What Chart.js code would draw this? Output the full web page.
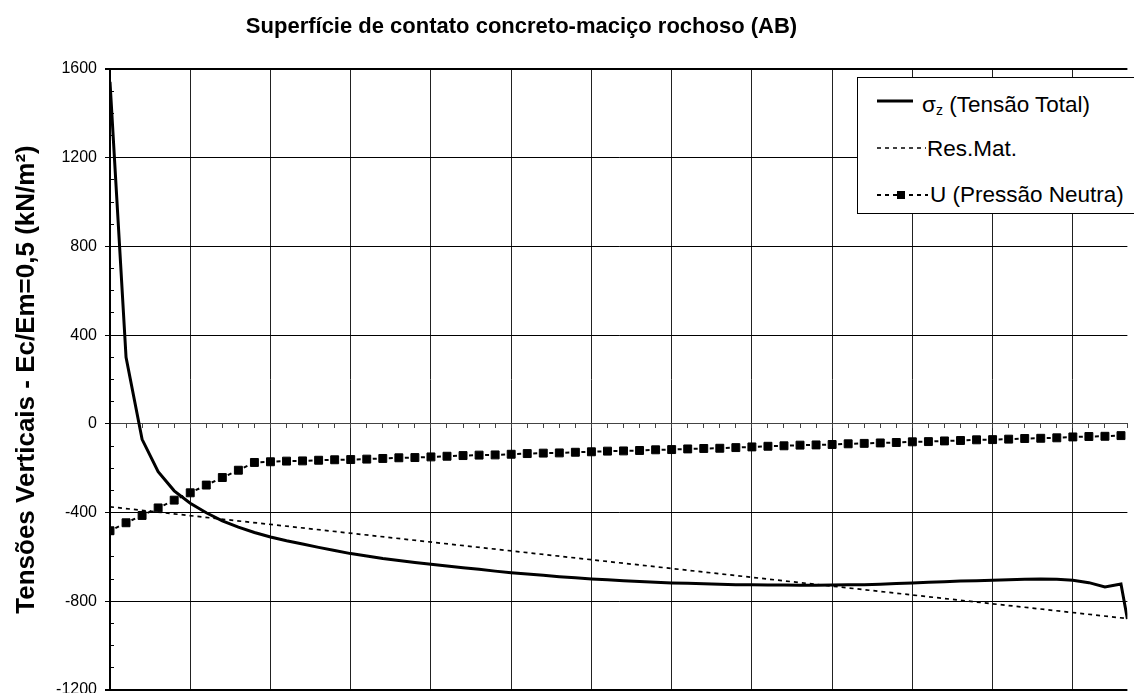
<!DOCTYPE html>
<html>
<head>
<meta charset="utf-8">
<script src="https://cdn.jsdelivr.net/npm/chart.js@4.4.1/dist/chart.umd.min.js"></script>
<style>
  html, body { margin: 0; padding: 0; overflow: hidden; background: #fff; }
  #wrap { position: relative; width: 1134px; height: 712px; }
  #legend { position: absolute; left: 857px; top: 77px; width: 320px; height: 137px;
            border: 1px solid #000; background: #fff; box-sizing: border-box;
            font-family: 'Liberation Sans', Arial, sans-serif; font-size: 22.5px; color: #000; }
  .lg-row { position: absolute; left: 0; height: 26px; line-height: 26px; white-space: nowrap; }
  .lg-row svg { position: absolute; top: 0; }
  .lg-row span.t { position: absolute; top: 0; }
  sub { font-size: 14px; vertical-align: -3px; }
</style>
</head>
<body>
<div id="wrap">
  <canvas id="c"></canvas>
  <div id="legend">
    <div class="lg-row" style="top:14px;width:300px">
      <svg width="60" height="26" style="left:19px"><line x1="0" y1="9" x2="36" y2="9" stroke="#000" stroke-width="3"/></svg>
      <span class="t" style="left:64px">σ<sub>z</sub> (Tensão Total)</span>
    </div>
    <div class="lg-row" style="top:58px;width:300px">
      <svg width="60" height="26" style="left:19px"><line x1="0" y1="12" x2="49" y2="12" stroke="#000" stroke-width="1.6" stroke-dasharray="4 4"/></svg>
      <span class="t" style="left:69px">Res.Mat.</span>
    </div>
    <div class="lg-row" style="top:104px;width:300px">
      <svg width="60" height="26" style="left:19px"><line x1="0" y1="13" x2="51" y2="13" stroke="#000" stroke-width="2" stroke-dasharray="4 4"/><rect x="20" y="9" width="8" height="8" fill="#000"/></svg>
      <span class="t" style="left:72px">U (Pressão Neutra)</span>
    </div>
  </div>
</div>
<script>
// ---- data ----
const chartTitle = 'Superfície de contato concreto-maciço rochoso (AB)';
const yAxisTitle = 'Tensões Verticais - Ec/Em=0,5 (kN/m²)';
const seriesNames = ['σz (Tensão Total)', 'Res.Mat.', 'U (Pressão Neutra)'];

const stations = [0,1,2,3,4,5,6,7,8,9,10,11,12,13,14,15,16,17,18,19,20,21,22,23,24,25,26,27,28,29,30,31,
                  32,33,34,35,36,37,38,39,40,41,42,43,44,45,46,47,48,49,50,51,52,53,54,55,56,57,58,59,60,61,62,63];
const sigmaStations = [0,1,2,3,4,5,6,7,8,9,10,11,12,13,14,15,16,17,18,19,20,21,22,23,24,25,26,27,28,29,30,31,
                  32,33,34,35,36,37,38,39,40,41,42,43,44,45,46,47,48,49,50,51,52,53,54,55,56,57,58,59,60,61,62,63,63.4];
const sigmaZ = [1542, 300, -70, -216, -302, -358, -401, -437, -466, -490, -510, -527, -542, -557, -571, -585,
                -596, -607, -616, -625, -633, -641, -649, -656, -664, -671, -677, -683, -689, -694, -699, -703,
                -707, -711, -714, -717, -719, -721, -723, -725, -726, -727, -727, -728, -728, -727, -726, -725,
                -723, -720, -717, -714, -712, -709, -707, -705, -703, -701, -700, -701, -705, -716, -735, -722, -880];
const resMatStations = [0, 63.4];
const resMat = [-374, -878];
const pressureU = [-482, -446, -413, -379, -344, -311, -276, -242, -209, -174, -171, -168, -167, -164, -162, -161,
                   -159, -156, -153, -152, -149, -146, -143, -141, -140, -137, -134, -132, -131, -128, -126, -123,
                   -122, -120, -117, -116, -113, -111, -110, -107, -104, -101, -99, -96, -95, -93, -90, -88,
                   -86, -84, -81, -80, -77, -75, -72, -71, -69, -66, -65, -63, -59, -57, -56, -53];
const yMin = -1200, yMax = 1600, yMajor = 400, yMinorStep = 100;
const xMin = 0, xMax = 63.4, xMajor = 5, xMinorStep = 1;

// ---- chart ----
const FONT = "'Liberation Sans', Arial, sans-serif";
const pts = (xs, ys) => xs.map((x, i) => ({ x: x, y: ys[i] }));

const titleShift = {
  id: 'titleShift',
  afterLayout(chart) {
    const t = chart.titleBlock;
    if (t) { t.left = 0; t.right = 1043; t.width = 1043; }
  }
};

new Chart(document.getElementById('c'), {
  type: 'line',
  data: {
    datasets: [
      { label: seriesNames[0], data: pts(sigmaStations, sigmaZ), borderColor: '#000', borderWidth: 3,
        pointRadius: 0, tension: 0, order: 2 },
      { label: seriesNames[1], data: pts(resMatStations, resMat), borderColor: '#000', borderWidth: 1.7,
        borderDash: [4, 4], pointRadius: 0, tension: 0, order: 3 },
      { label: seriesNames[2], data: pts(stations, pressureU), borderColor: '#000', borderWidth: 2,
        borderDash: [4, 20],
        segment: { borderDashOffset: c => (c.p0DataIndex % 2 ? 18 : 18.001) },
        pointStyle: 'rect', pointRadius: 5.6, pointBorderWidth: 1, pointBackgroundColor: '#000',
        pointBorderColor: '#000', tension: 0, order: 1 }
    ]
  },
  options: {
    responsive: true,
    maintainAspectRatio: false,
    animation: false,
    events: [],
    layout: { padding: { left: 0, right: 0, top: 0, bottom: 22 } },
    plugins: {
      legend: { display: false },
      tooltip: { enabled: false },
      title: {
        display: true, text: chartTitle, color: '#000',
        font: { family: FONT, size: 22, weight: 'bold', lineHeight: 1.2 },
        padding: { top: 14, bottom: 28.6 }
      }
    },
    scales: {
      x: {
        type: 'linear', min: xMin, max: xMax, position: 'bottom',
        ticks: { display: false, stepSize: xMajor, maxTicksLimit: 200 },
        afterBuildTicks: s => { s.ticks = s.ticks.filter(t => Math.abs(t.value % xMajor) < 1e-9); },
        grid: { color: '#222', lineWidth: 1, drawTicks: false },
        border: { display: false }
      },
      xMinor: {
        type: 'linear', min: xMin, max: xMax, position: { y: 0 },
        ticks: { display: false, stepSize: xMinorStep, maxTicksLimit: 200 },
        grid: { drawOnChartArea: false, drawTicks: true, tickLength: 4, color: '#444', lineWidth: 1 },
        border: { display: true, color: '#444', width: 1 }
      },
      y: {
        type: 'linear', min: yMin, max: yMax, position: 'left',
        afterFit: s => { s.width = 110; },
        ticks: { stepSize: yMajor, color: '#000', padding: 8, font: { family: FONT, size: 16 },
                 callback: v => String(v) },
        grid: { color: '#000', lineWidth: c => (c.tick && (c.tick.value === yMax || c.tick.value === yMin) ? 2 : 1), tickLength: 5 },
        border: { display: true, color: '#000', width: 2 },
        title: { display: true, text: yAxisTitle, color: '#000', padding: { top: 11, bottom: 0 },
                 font: { family: FONT, size: 26, weight: 'bold', lineHeight: 1.2 } }
      },
      yMinor: {
        type: 'linear', min: yMin, max: yMax, position: { x: 0.25 },
        ticks: { display: false, stepSize: yMinorStep, maxTicksLimit: 200 },
        grid: { drawOnChartArea: false, drawTicks: true, tickLength: 4, color: '#000', lineWidth: 1 },
        border: { display: false }
      }
    }
  },
  plugins: [titleShift]
});
</script>
</body>
</html>
